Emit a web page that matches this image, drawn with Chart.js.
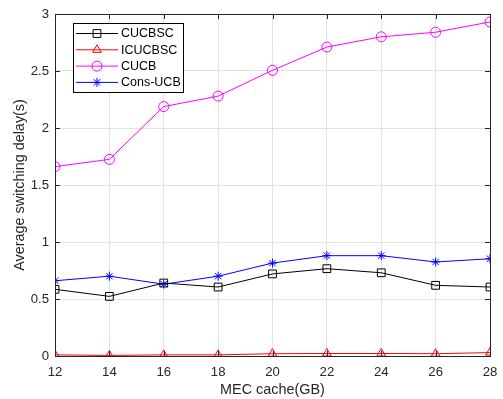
<!DOCTYPE html>
<html>
<head>
<meta charset="utf-8">
<script src="https://cdn.jsdelivr.net/npm/chart.js@4/dist/chart.umd.min.js"></script>
<style>
  html, body { margin: 0; padding: 0; background: #fff; }
  #wrap { width: 503px; height: 399px; }
</style>
</head>
<body>
<div id="wrap"><canvas id="myChart"></canvas></div>
<script>
const cacheSizes = [12, 14, 16, 18, 20, 22, 24, 26, 28];
const cucbsc = [0.585, 0.523, 0.64, 0.605, 0.72, 0.766, 0.73, 0.62, 0.605];
const icucbsc = [0.01, 0.005, 0.01, 0.01, 0.02, 0.022, 0.022, 0.02, 0.03];
const cucb = [1.661, 1.725, 2.188, 2.28, 2.506, 2.71, 2.80, 2.84, 2.93];
const consUcb = [0.66, 0.70, 0.63, 0.70, 0.815, 0.88, 0.88, 0.825, 0.853];
const yTickLabels = ["0", "0.5", "1", "1.5", "2", "2.5", "3"];

const FONT = "'Liberation Sans', Arial, Helvetica, sans-serif";
const AXIS = "#262626";

function toPoints(values) {
    return values.map((v, i) => ({ x: cacheSizes[i], y: v }));
}

function series(label, values, color, style, radius) {
    return {
        label: label,
        data: toPoints(values),
        borderColor: color,
        backgroundColor: "rgba(0,0,0,0)",
        borderWidth: 1,
        pointStyle: style,
        pointRadius: radius,
        pointBorderColor: color,
        pointBackgroundColor: "rgba(0,0,0,0)",
        pointBorderWidth: 1,
        tension: 0,
    };
}

// MATLAB style box with inward ticks
const boxTicks = {
    id: "boxTicks",
    afterDatasetsDraw(chart) {
        const { ctx, chartArea: a, scales } = chart;
        ctx.save();
        ctx.strokeStyle = AXIS;
        ctx.lineWidth = 1;
        ctx.beginPath();
        scales.x.ticks.forEach((t) => {
            const px = Math.round(scales.x.getPixelForValue(t.value)) + 0.5;
            ctx.moveTo(px, a.bottom); ctx.lineTo(px, a.bottom - 5);
            ctx.moveTo(px, a.top); ctx.lineTo(px, a.top + 5);
        });
        scales.y.ticks.forEach((t) => {
            const py = Math.round(scales.y.getPixelForValue(t.value)) + 0.5;
            ctx.moveTo(a.left, py); ctx.lineTo(a.left + 5, py);
            ctx.moveTo(a.right, py); ctx.lineTo(a.right - 5, py);
        });
        ctx.stroke();
        ctx.strokeRect(Math.round(a.left) + 0.5, Math.round(a.top) + 0.5,
            Math.round(a.right - a.left), Math.round(a.bottom - a.top));
        ctx.restore();
    },
};

// legend box with line + marker samples
const boxLegend = {
    id: "boxLegend",
    afterDraw(chart) {
        const { ctx, chartArea: a } = chart;
        const x0 = a.left + 18, y0 = a.top + 9;
        const w = 110, h = 69, rowH = 16.3;
        ctx.save();
        ctx.fillStyle = "#fff";
        ctx.fillRect(x0, y0, w, h);
        ctx.strokeStyle = "#000";
        ctx.lineWidth = 1;
        ctx.strokeRect(x0 + 0.5, y0 + 0.5, w, h);
        ctx.font = "12.5px " + FONT;
        ctx.textBaseline = "middle";
        chart.data.datasets.forEach((ds, i) => {
            const cy = y0 + 10.5 + i * rowH;
            ctx.strokeStyle = ds.borderColor;
            ctx.fillStyle = "rgba(0,0,0,0)";
            ctx.lineWidth = 1;
            ctx.beginPath();
            ctx.moveTo(x0 + 3, cy);
            ctx.lineTo(x0 + 45, cy);
            ctx.stroke();
            Chart.helpers.drawPoint(ctx, {
                pointStyle: ds.pointStyle,
                radius: ds.pointRadius,
                rotation: 0,
                borderWidth: 1,
            }, x0 + 24, cy);
            ctx.fillStyle = "#000";
            ctx.fillText(ds.label, x0 + 48, cy + 0.5);
        });
        ctx.restore();
    },
};

new Chart(document.getElementById("myChart"), {
    type: "line",
    data: {
        datasets: [
            series("CUCBSC", cucbsc, "#000000", "rect", 5.5),
            series("ICUCBSC", icucbsc, "#ff0000", "triangle", 5),
            series("CUCB", cucb, "#ff00ff", "circle", 5),
            series("Cons-UCB", consUcb, "#0000ff", "star", 4.5),
        ],
    },
    options: {
        responsive: true,
        maintainAspectRatio: false,
        animation: false,
        layout: { padding: { top: 14, right: 13, left: 0, bottom: 0 } },
        plugins: {
            legend: { display: false },
            tooltip: { enabled: false },
        },
        scales: {
            x: {
                type: "linear",
                min: 12,
                max: 28,
                ticks: {
                    stepSize: 2,
                    color: AXIS,
                    padding: 8,
                    font: { family: FONT, size: 13.2 },
                },
                grid: { color: "#e3e3e3", drawTicks: false, lineWidth: 1 },
                border: { display: false },
                title: {
                    display: true,
                    text: "MEC cache(GB)",
                    color: AXIS,
                    padding: { top: 2, bottom: 0 },
                    font: { family: FONT, size: 14.4 },
                },
                afterFit(scale) {
                    scale.height = 43;
                    scale.paddingLeft = 0;
                    scale.paddingRight = 0;
                },
            },
            y: {
                min: 0,
                max: 3,
                ticks: {
                    stepSize: 0.5,
                    color: AXIS,
                    padding: 6,
                    font: { family: FONT, size: 13.2 },
                    callback: (v) => yTickLabels[Math.round(v * 2)],
                },
                grid: { color: "#e3e3e3", drawTicks: false, lineWidth: 1 },
                border: { display: false },
                title: {
                    display: true,
                    text: "Average switching delay(s)",
                    color: AXIS,
                    padding: { top: 11, bottom: 0 },
                    font: { family: FONT, size: 14.4 },
                },
                afterFit(scale) {
                    scale.width = 55;
                    scale.paddingTop = 0;
                    scale.paddingBottom = 0;
                },
            },
        },
    },
    plugins: [boxTicks, boxLegend],
});
</script>
</body>
</html>
